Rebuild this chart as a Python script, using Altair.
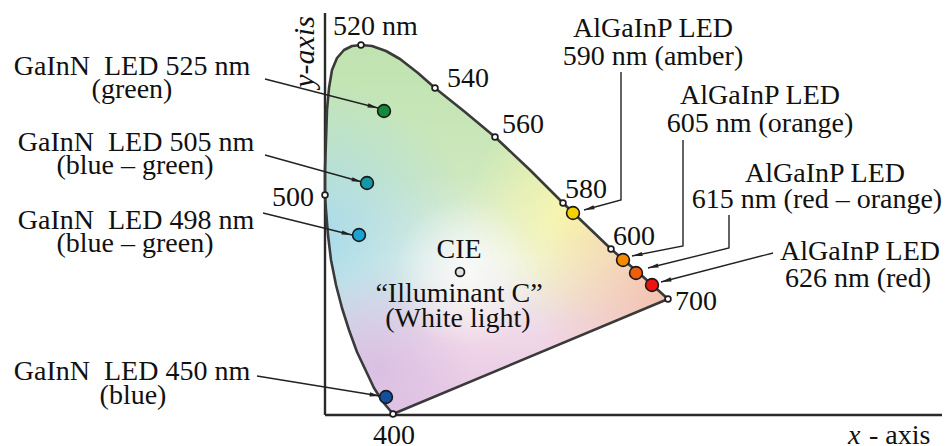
import math
import altair as alt
import pandas as pd

# ---------------- data (in its pixel frame) ----------------
# spectral locus outline (closed), from 400 nm up the left side, over 520 nm, down to 700 nm
locus_x = [393, 383, 374, 366, 357, 349, 342, 336, 331, 328, 326, 325, 325, 326, 327, 329, 332,
           337, 344, 352, 361, 372, 386, 400, 418, 435, 465, 495, 530, 563, 587, 611, 640, 668, 393]
locus_y = [414, 402, 388, 371, 352, 330, 308, 285, 260, 235, 210, 195, 170, 140, 110, 88, 70,
           58, 50, 46, 45, 46, 51, 59, 73, 88, 112, 137, 170, 203, 226, 249, 274, 299, 414]

# wavelength ticks on the locus
wl_labels = ["520 nm", "540", "560", "580", "600", "700", "500", "400"]
wl_x = [361, 435, 495, 563, 611, 668, 325, 393]
wl_y = [45, 88, 137, 203, 249, 299, 195, 414]

# LED chromaticity points
led_names = ["525", "505", "498", "450", "590", "605", "615", "626"]
led_x = [384, 367, 359, 386, 573, 623, 636, 652]
led_y = [111, 183, 235, 397, 213, 260, 273, 285]
led_colors = ["#15893a", "#1597a8", "#1aa3d3", "#124f9e", "#f4d000", "#f38a00", "#f05e0a", "#ee1111"]

# CIE Illuminant C
white_x = [460]
white_y = [272]

# axes lines
axis_id = ["v", "v", "h", "h"]
axis_x = [325, 325, 325, 950]
axis_y = [13, 415, 415, 415]

# arrows (polylines, last point is the tip)
arrow_id = ["525", "525", "505", "505", "498", "498", "450", "450",
            "590", "590", "590", "605", "605", "605", "615", "615", "615", "626", "626"]
arrow_x = [265, 378, 265, 362, 263, 352, 257, 380,
           621, 621, 584, 683, 683, 632, 729, 729, 648, 773, 661]
arrow_y = [79, 108, 155, 182, 213, 235, 376, 396,
           72, 200, 210, 140, 246, 256, 215, 248, 268, 253, 282]

NB = "\u00a0"
# text labels (centered)
c_text = ["GaInN" + NB + " LED 525 nm", "(green)", "GaInN" + NB + " LED 505 nm", "(blue \u2013 green)",
          "GaInN" + NB + " LED 498 nm", "(blue \u2013 green)", "GaInN" + NB + " LED 450 nm", "(blue)",
          "AlGaInP LED", "590 nm (amber)", "AlGaInP LED", "605 nm (orange)",
          "AlGaInP LED", "615 nm (red \u2013 orange)", "AlGaInP LED", "626 nm (red)",
          "CIE", "\u201cIlluminant C\u201d", "(White light)", "400"]
c_x = [132, 132, 136, 135, 136, 135, 132, 133,
       653, 653, 760, 760, 825, 817, 860, 858,
       459, 459, 458, 394]
c_y = [75, 98, 151, 174, 229, 252, 380, 404,
       37, 65, 104, 132, 182, 208, 260, 287,
       258, 302, 327, 444]
# left-aligned wavelength labels
l_text = ["520 nm", "540", "560", "580", "600", "700", "- axis"]
l_x = [333, 447, 502, 565, 613, 675, 869]
l_y = [35, 87, 133, 198, 245, 310, 444]
# right-aligned
r_text = ["500"]
r_x = [314]
r_y = [206]

# ---------------- frames ----------------
locus_df = pd.DataFrame({"x": locus_x, "y": locus_y, "o": list(range(len(locus_x)))})
wl_df = pd.DataFrame({"x": wl_x, "y": wl_y, "label": wl_labels})
led_df = pd.DataFrame({"x": led_x, "y": led_y, "name": led_names, "c": led_colors})
white_df = pd.DataFrame({"x": white_x, "y": white_y})
axis_df = pd.DataFrame({"id": axis_id, "x": axis_x, "y": axis_y, "o": [0, 1, 0, 1]})
arr_o = []
cnt = {}
for a in arrow_id:
    arr_o.append(cnt.get(a, 0))
    cnt[a] = cnt.get(a, 0) + 1
arrow_df = pd.DataFrame({"id": arrow_id, "x": arrow_x, "y": arrow_y, "o": arr_o})

# arrowhead orientation from last segment of each arrow
heads = []
for a in dict.fromkeys(arrow_id):
    sub = arrow_df[arrow_df.id == a]
    (x0, y0), (x1, y1) = sub[["x", "y"]].values[-2], sub[["x", "y"]].values[-1]
    ang = math.degrees(math.atan2(x1 - x0, -(y1 - y0))) % 360
    heads.append({"x": x1, "y": y1, "angle": ang})
head_df = pd.DataFrame(heads)

c_df = pd.DataFrame({"x": c_x, "y": c_y, "t": c_text})
l_df = pd.DataFrame({"x": l_x, "y": l_y, "t": l_text})
r_df = pd.DataFrame({"x": r_x, "y": r_y, "t": r_text})

# ---------------- encodings ----------------
XS = alt.Scale(domain=[8, 942], nice=False, zero=False)
YS = alt.Scale(domain=[8, 446], nice=False, zero=False, reverse=True)


def X():
    return alt.X("x:Q", scale=XS, axis=None)


def Y():
    return alt.Y("y:Q", scale=YS, axis=None)


SERIF = "Liberation Serif"
FS = 28


def stop(c, o):
    return alt.GradientStop(color=c, offset=o)


def radial(cx, cy, r, c_in, c_out):
    return alt.RadialGradient(gradient="radial", x1=cx, y1=cy, r1=0, x2=cx, y2=cy, r2=r,
                              stops=[stop(c_in, 0), stop(c_out, 1)])


gradients = [
    alt.LinearGradient(gradient="linear", x1=0, y1=0, x2=0, y2=1,
                       stops=[stop("#bfe3b0", 0), stop("#cde8bd", 0.35), stop("#eaf2e6", 0.58),
                              stop("#f0d6e8", 0.8), stop("#e6c6e4", 1)]),
    radial(0.02, 0.52, 0.42, "rgba(168,218,234,1)", "rgba(168,218,234,0)"),
    radial(0.72, 0.45, 0.30, "rgba(251,246,170,1)", "rgba(251,246,170,0)"),
    radial(1.0, 0.68, 0.40, "rgba(245,190,168,1)", "rgba(245,190,168,0)"),
    radial(0.18, 0.88, 0.26, "rgba(214,188,226,0.8)", "rgba(214,188,226,0)"),
    radial(0.42, 0.62, 0.20, "rgba(250,250,250,0.9)", "rgba(250,250,250,0)"),
]

layers = []
for g in gradients:
    layers.append(alt.Chart(locus_df).mark_line(fill=g, strokeOpacity=0, strokeWidth=0)
                  .encode(x=X(), y=Y(), order="o:Q"))

layers.append(alt.Chart(axis_df).mark_line(color="#2a2a2a", strokeWidth=2.4)
              .encode(x=X(), y=Y(), detail="id:N", order="o:Q"))
layers.append(alt.Chart(locus_df).mark_line(color="#3a3a3a", strokeWidth=2.6, strokeJoin="round")
              .encode(x=X(), y=Y(), order="o:Q"))
layers.append(alt.Chart(arrow_df).mark_line(color="#222222", strokeWidth=1.4)
              .encode(x=X(), y=Y(), detail="id:N", order="o:Q"))
layers.append(alt.Chart(head_df).mark_point(shape="M0,0 L0.45,2.2 L-0.45,2.2 Z", filled=True,
                                             fill="#222222", size=90, opacity=1, strokeWidth=0)
              .encode(x=X(), y=Y(), angle=alt.Angle("angle:Q", scale=None)))
layers.append(alt.Chart(wl_df).mark_point(shape="circle", filled=False, fill="white", stroke="#1e1e1e",
                                           strokeWidth=1.7, size=34, opacity=1, fillOpacity=1)
              .encode(x=X(), y=Y()))
layers.append(alt.Chart(led_df).mark_point(shape="circle", filled=True, stroke="#1a1a1a",
                                            strokeWidth=1.6, size=165, opacity=1)
              .encode(x=X(), y=Y(), fill=alt.Fill("c:N", scale=None)))
layers.append(alt.Chart(white_df).mark_point(shape="circle", filled=True, fill="#e4e4e4", stroke="#1a1a1a",
                                              strokeWidth=1.8, size=80, opacity=1)
              .encode(x=X(), y=Y()))

layers.append(alt.Chart(c_df).mark_text(font=SERIF, fontSize=FS, align="center", baseline="alphabetic",
                                        color="#111111")
              .encode(x=X(), y=Y(), text="t:N"))
layers.append(alt.Chart(l_df).mark_text(font=SERIF, fontSize=FS, align="left", baseline="alphabetic",
                                        color="#111111")
              .encode(x=X(), y=Y(), text="t:N"))
layers.append(alt.Chart(r_df).mark_text(font=SERIF, fontSize=FS, align="right", baseline="alphabetic",
                                        color="#111111")
              .encode(x=X(), y=Y(), text="t:N"))

# axis names
xname_df = pd.DataFrame({"x": [848], "y": [444], "t": ["x"]})
yname_df = pd.DataFrame({"x": [314], "y": [52], "t": ["y-axis"]})
layers.append(alt.Chart(xname_df).mark_text(font=SERIF, fontSize=FS, fontStyle="italic", align="left",
                                            baseline="alphabetic", color="#111111")
              .encode(x=X(), y=Y(), text="t:N"))
layers.append(alt.Chart(yname_df).mark_text(font=SERIF, fontSize=30, fontStyle="italic", align="center",
                                            baseline="alphabetic", angle=270, color="#111111")
              .encode(x=X(), y=Y(), text="t:N"))

chart = (alt.layer(*layers)
         .properties(width=934, height=438, padding=0, autosize=alt.AutoSizeParams(type="none"),
                     background="white")
         .configure_view(strokeWidth=0))

chart.save("out.html", embed_options={"renderer": "svg", "actions": False})
